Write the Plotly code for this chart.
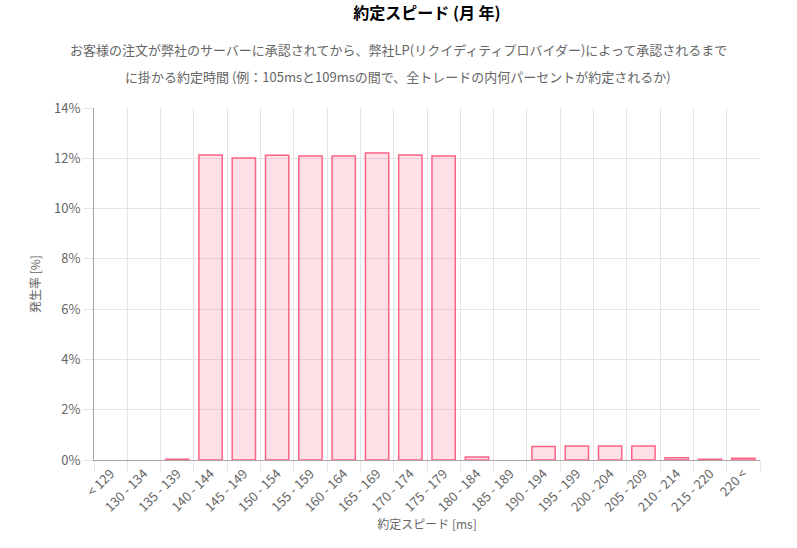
import plotly.graph_objects as go

categories = ["< 129", "130 - 134", "135 - 139", "140 - 144", "145 - 149", "150 - 154",
              "155 - 159", "160 - 164", "165 - 169", "170 - 174", "175 - 179", "180 - 184",
              "185 - 189", "190 - 194", "195 - 199", "200 - 204", "205 - 209", "210 - 214",
              "215 - 220", "220 <"]
values = [0.0, 0.0, 0.03, 12.13, 12.01, 12.12, 12.09, 12.09, 12.21, 12.13, 12.09, 0.12,
          0.0, 0.54, 0.56, 0.56, 0.56, 0.09, 0.03, 0.07]
y_ticks = [0, 2, 4, 6, 8, 10, 12, 14]
y_tick_labels = [f"{v}%" for v in y_ticks]

title_text = "約定スピード (月 年)"
subtitle_1 = "お客様の注文が弊社のサーバーに承認されてから、弊社LP(リクイディティプロバイダー)によって承認されるまで"
subtitle_2 = "に掛かる約定時間 (例：105msと109msの間で、全トレードの内何パーセントが約定されるか)"

font_family = "Noto Sans CJK JP, Noto Sans, sans-serif"

line_widths = [0 if v == 0 else 1.5 for v in values]

fig = go.Figure()
fig.add_trace(go.Bar(
    x=categories, y=values, width=0.7,
    marker=dict(color="rgba(255,99,132,0.2)", line=dict(color="rgb(255,99,132)", width=line_widths)),
    hoverinfo="x+y",
))

fig.update_layout(
    width=797, height=548,
    margin=dict(l=94, r=37, t=108, b=88),
    paper_bgcolor="white", plot_bgcolor="white",
    font=dict(family=font_family, color="#666", size=12),
    showlegend=False,
    title=dict(text=title_text, x=0.5, xref="paper", y=1, yref="container", yanchor="top", pad=dict(t=8),
               font=dict(size=16, color="#000", family=font_family, weight="bold")),
)
fig.add_annotation(text=subtitle_1, xref="paper", yref="paper", x=(398 - 94) / 666, y=(460 - 50) / 352,
                   showarrow=False, font=dict(size=13, color="#666"), yanchor="middle")
fig.add_annotation(text=subtitle_2, xref="paper", yref="paper", x=(398 - 94) / 666, y=(460 - 77) / 352,
                   showarrow=False, font=dict(size=13, color="#666"), yanchor="middle")

fig.update_xaxes(
    type="category", tickson="boundaries", ticks="outside", ticklen=10, tickcolor="#e5e5e5",
    showgrid=True, gridcolor="#e5e5e5", tickangle=-45,
    showline=True, linecolor="#b0a0a8", linewidth=1,
    tickfont=dict(size=13),
    title=dict(text="約定スピード [ms]", font=dict(size=12, color="#666"), standoff=6),
    range=[-0.5, len(categories) - 0.5],
)
fig.update_yaxes(
    range=[0, 14], tickvals=y_ticks, ticktext=y_tick_labels,
    ticks="outside", ticklen=10, tickcolor="#e5e5e5",
    showgrid=True, gridcolor="#e5e5e5", zeroline=False,
    showline=True, linecolor="#b0a0a8", linewidth=1,
    title=dict(text="発生率 [%]", font=dict(size=12, color="#666"), standoff=10),
    tickfont=dict(size=13),
)

fig.write_html("out.html")
